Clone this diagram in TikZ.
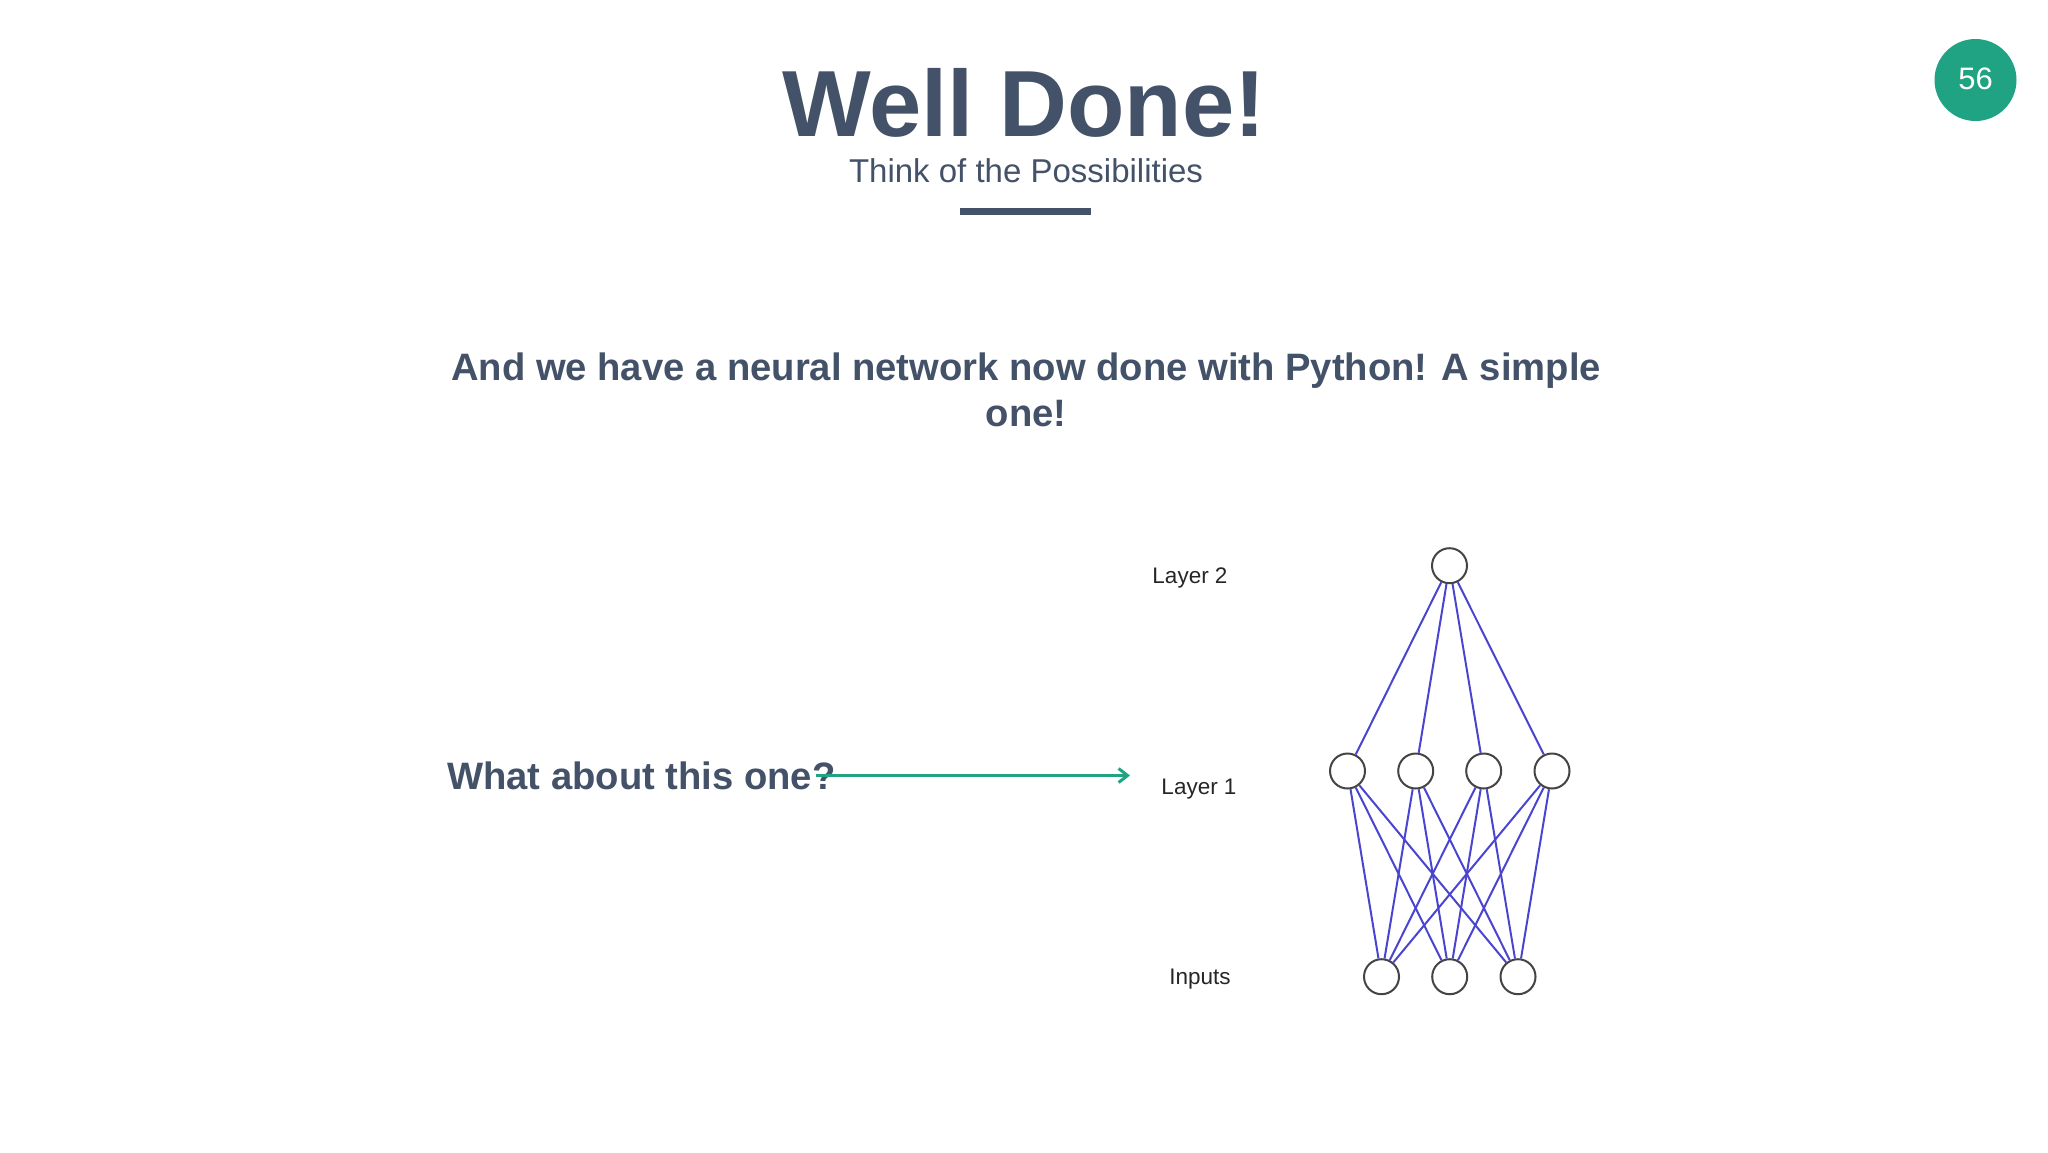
\documentclass[tikz,border=0pt]{standalone}
\usepackage{fontspec}
\usetikzlibrary{arrows.meta}
\setmainfont{Liberation Sans}
\newfontfamily\labelfont{Liberation Sans}
\definecolor{slate}{HTML}{435268}
\definecolor{teal}{HTML}{1FA383}
\definecolor{edgeblue}{HTML}{4A45D0}
\definecolor{ringgray}{HTML}{444444}
\tikzset{
  px/.style={x=1pt,y=-1pt},
  titletext/.style={text=slate,font=\fontsize{94}{94}\selectfont\bfseries,anchor=base,inner sep=0},
  subtext/.style={text=slate,font=\fontsize{33}{33}\selectfont,anchor=base,inner sep=0},
  bodytext/.style={text=slate,font=\fontsize{38.2}{46}\selectfont\bfseries,anchor=base,inner sep=0},
  netlabel/.style={text=black!85,font=\labelfont\fontsize{22.5}{22}\selectfont,anchor=base,inner sep=0},
  neuron/.style={circle,draw=ringgray,line width=2pt,minimum size=35pt,inner sep=0,fill=white},
  edge/.style={draw=edgeblue,line width=2pt},
}
\begin{document}
\begin{tikzpicture}[px]
\useasboundingbox[fill=white] (0,0) rectangle (2048,1152);
\node[titletext] (title) at (1024,136) {Well Done!};
\node[subtext] (sub) at (1026,182) {Think of the Possibilities};
\fill[slate] (960,207.5) rectangle (1091,215);
\node[circle,fill=teal,minimum size=82pt,inner sep=0,text=white,font=\fontsize{31}{31}\selectfont] (badge) at (1975.5,80) {\raisebox{3.5pt}{56}};
\node[bodytext] (body1) at (1026,380) {And we have a neural network now done with Python! A simple};
\node[bodytext] (body2) at (1026,426) {one!};
\node[bodytext,anchor=base west] (ask) at (447,789.5) {What about this one?};
\node[netlabel] (l2) at (1190,583) {Layer 2};
\node[netlabel] (l1) at (1199,794) {Layer 1};
\node[netlabel] (l0) at (1200,984) {Inputs};
\coordinate (arrowstart) at (816,775.5);
\coordinate (arrowend) at (1130,775.5);
\draw[teal,line width=3pt,-{Straight Barb[length=9pt,width=14pt,line width=3pt]}] (arrowstart) -- (arrowend);
\node[neuron] (t) at (1449.5,565.7) {};
\node[neuron] (a) at (1347.5,771) {};
\node[neuron] (b) at (1415.7,771) {};
\node[neuron] (c) at (1483.7,771) {};
\node[neuron] (d) at (1552,771) {};
\node[neuron] (x) at (1381.5,976.7) {};
\node[neuron] (y) at (1449.7,976.7) {};
\node[neuron] (z) at (1518,976.7) {};
\foreach \m in {a,b,c,d}{
  \draw[edge] (t) -- (\m);
  \foreach \n in {x,y,z}{\draw[edge] (\m) -- (\n);}
}
\end{tikzpicture}
\end{document}
